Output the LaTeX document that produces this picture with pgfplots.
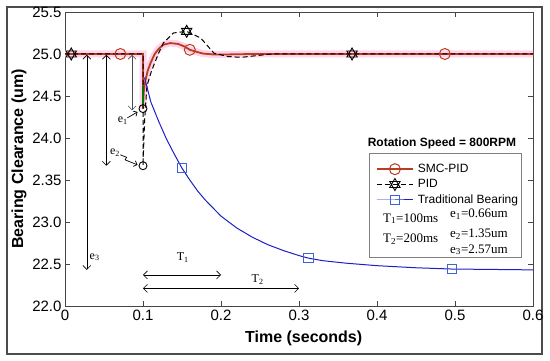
\documentclass[border=0pt]{standalone}
\usepackage{pgfplots}
\pgfplotsset{compat=1.18}
\usepackage{fontspec}
\setmainfont{Liberation Sans}
\newfontfamily\seriffont{Liberation Serif}
\usetikzlibrary{arrows.meta}

\definecolor{smc}{RGB}{185,60,30}
\definecolor{smcpink}{RGB}{255,212,234}
\definecolor{tbline}{RGB}{30,30,200}
\definecolor{tbmark}{RGB}{60,100,210}
\definecolor{axgray}{RGB}{70,70,70}

\pgfdeclareplotmark{hexagram}{%
 \pgfpathmoveto{\pgfpointpolar{90}{\pgfplotmarksize}}%
 \pgfpathlineto{\pgfpointpolar{210}{\pgfplotmarksize}}%
 \pgfpathlineto{\pgfpointpolar{330}{\pgfplotmarksize}}%
 \pgfpathclose
 \pgfpathmoveto{\pgfpointpolar{270}{\pgfplotmarksize}}%
 \pgfpathlineto{\pgfpointpolar{30}{\pgfplotmarksize}}%
 \pgfpathlineto{\pgfpointpolar{150}{\pgfplotmarksize}}%
 \pgfpathclose
 \pgfusepathqstroke}

\pgfplotstableread{
t v
0 25.0
0.071 25.0
0.1 25.0
0.1 24.35
0.101 24.55
0.103 24.68
0.106 24.8
0.11 24.9
0.115 25.0
0.12 25.06
0.126 25.11
0.135 25.13
0.145 25.12
0.153 25.09
0.160 25.05
0.167 25.03
0.177 25.005
0.19 24.995
0.21 24.995
0.24 25.0
0.487 25.0
0.6 25.0
}\smcdata

\pgfplotstableread{
t v
0 25.0
0.008 25.0
0.1 25.0
0.1 23.67
0.102 24.2
0.105 24.62
0.111 24.8
0.12 25.01
0.126 25.13
0.139 25.25
0.156 25.27
0.174 25.19
0.191 25.01
0.209 24.97
0.226 24.96
0.245 24.98
0.265 25.0
0.368 25.0
0.6 25.0
}\piddata

\pgfplotstableread{
t v
0.102 24.72
0.11 24.43
0.12 24.2
0.13 23.99
0.14 23.81
0.15 23.64
0.16 23.5
0.17 23.37
0.18 23.26
0.2 23.07
0.22 22.93
0.24 22.82
0.26 22.73
0.28 22.66
0.3 22.6
0.312 22.57
0.33 22.54
0.36 22.51
0.4 22.48
0.45 22.455
0.496 22.44
0.55 22.435
0.6 22.43
}\tbdata

\begin{document}
\begin{tikzpicture}
\useasboundingbox (0pt,0pt) rectangle (550pt,361pt);
\draw[gray!60!black, line width=1.2pt] (7pt,7pt) rectangle (542pt,354pt);
\begin{axis}[
  at={(65pt,55pt)}, anchor=south west,
  width=468pt, height=294pt, scale only axis,
  xmin=0, xmax=0.6, ymin=22, ymax=25.5,
  xtick={0,0.1,0.2,0.3,0.4,0.5,0.6},
  xticklabels={0,0.1,0.2,0.3,0.4,0.5,0.6},
  ytick={22,22.5,23,23.5,24,24.5,25,25.5},
  yticklabels={22.0,22.5,23.0,2.35,24.0,24.5,25.0,25.5},
  tick align=inside, tick pos=both, major tick length=5pt,
  axis line style={axgray, line width=0.8pt},
  tick style={axgray, line width=0.8pt},
  ticklabel style={font=\fontsize{15}{18}\selectfont},
  /pgf/number format/assume math mode=true,
  xlabel={Time (seconds)}, ylabel={Bearing Clearance (um)},
  label style={font=\fontsize{16}{19}\selectfont\bfseries},
  xlabel style={at={(axis description cs:0.51,-0.109)}, anchor=center},
  ylabel style={at={(axis description cs:-0.098,0.5)}, anchor=center},
  legend style={at={(axis description cs:0.662,0.493)}, anchor=north west,
    draw=none, fill=none, font=\fontsize{12}{14}\selectfont,
    row sep=1.5pt, inner sep=1pt,
    /tikz/every odd column/.append style={column sep=2pt}},
  legend cell align=left,
  legend image code/.code={\draw[#1, mark indices={2}] plot coordinates {(0pt,0pt) (18pt,0pt) (36pt,0pt)};},
]
% legend box
\draw[gray, fill=white, line width=0.6pt] (axis cs:0.3897,22.583) rectangle (axis cs:0.5846,23.82);

\addplot[forget plot, smcpink, line width=7pt] table[x=t,y=v] {\smcdata};
\addplot[smc, line width=1.8pt, mark=o, mark size=5.5pt, mark indices={2,15,21},
  mark options={solid, line width=1pt}] table[x=t,y=v] {\smcdata};
\addlegendentry{SMC-PID}
\addplot[black, line width=1pt, dash pattern=on 5pt off 3pt, mark=hexagram, mark size=6pt,
  mark indices={2,11,18}, mark options={solid, line width=0.9pt}] table[x=t,y=v] {\piddata};
\addlegendentry{PID}
\addplot[tbline, line width=1pt, mark=square, mark size=4.7pt, mark indices={6,16,21},
  mark options={tbmark, solid, line width=0.9pt}] table[x=t,y=v] {\tbdata};
\addlegendentry{Traditional Bearing}

\addplot[forget plot, green!45!black, line width=1.6pt] coordinates {(0.1,24.62) (0.1,24.38)};
\addplot[forget plot, only marks, black, mark=o, mark size=4pt, mark options={line width=0.9pt}]
  coordinates {(0.1,24.35) (0.1,23.67)};

% annotation arrows
\draw[<->, >={Straight Barb[length=4pt]}, line width=0.6pt] (axis cs:0.028,24.99) -- (axis cs:0.028,22.43);
\draw[<->, >={Straight Barb[length=4pt]}, line width=0.6pt] (axis cs:0.053,24.99) -- (axis cs:0.053,23.67);
\draw[<->, >={Straight Barb[length=4pt]}, line width=0.6pt, gray!60!black] (axis cs:0.086,24.99) -- (axis cs:0.086,24.33);
\draw[->, >={Straight Barb[length=3pt]}, line width=0.7pt] (axis cs:0.080,24.24) -- (axis cs:0.093,24.31);
\draw[->, >={Straight Barb[length=3pt]}, line width=0.7pt] (axis cs:0.071,23.80) -- (axis cs:0.079,23.77) -- (axis cs:0.077,23.74) -- (axis cs:0.093,23.68);
\draw[<->, >={Straight Barb[length=4pt]}, line width=0.6pt] (axis cs:0.1,22.37) -- (axis cs:0.2,22.37);
\draw[<->, >={Straight Barb[length=4pt]}, line width=0.6pt] (axis cs:0.1,22.21) -- (axis cs:0.3,22.21);

\node[font=\seriffont\fontsize{12}{14}\selectfont] at (axis cs:0.074,24.21) {e\textsubscript{1}};
\node[font=\seriffont\fontsize{12}{14}\selectfont] at (axis cs:0.064,23.83) {e\textsubscript{2}};
\node[font=\seriffont\fontsize{12}{14}\selectfont] at (axis cs:0.038,22.58) {e\textsubscript{3}};
\node[font=\seriffont\fontsize{12}{14}\selectfont] at (axis cs:0.151,22.58) {T\textsubscript{1}};
\node[font=\seriffont\fontsize{12}{14}\selectfont] at (axis cs:0.247,22.31) {T\textsubscript{2}};

\node[font=\fontsize{12}{14}\selectfont\bfseries] at (axis cs:0.4833,23.94) {Rotation Speed = 800RPM};
\node[font=\seriffont\fontsize{13}{15}\selectfont, anchor=west, inner sep=0pt] at (axis cs:0.4077,23.04) {T\textsubscript{1}=100ms};
\node[font=\seriffont\fontsize{13}{15}\selectfont, anchor=west, inner sep=0pt] at (axis cs:0.4077,22.80) {T\textsubscript{2}=200ms};
\node[font=\seriffont\fontsize{13}{15}\selectfont, anchor=west, inner sep=0pt] at (axis cs:0.4936,23.09) {e\textsubscript{1}=0.66um};
\node[font=\seriffont\fontsize{13}{15}\selectfont, anchor=west, inner sep=0pt] at (axis cs:0.4936,22.86) {e\textsubscript{2}=1.35um};
\node[font=\seriffont\fontsize{13}{15}\selectfont, anchor=west, inner sep=0pt] at (axis cs:0.4936,22.67) {e\textsubscript{3}=2.57um};
\end{axis}
\end{tikzpicture}
\end{document}
